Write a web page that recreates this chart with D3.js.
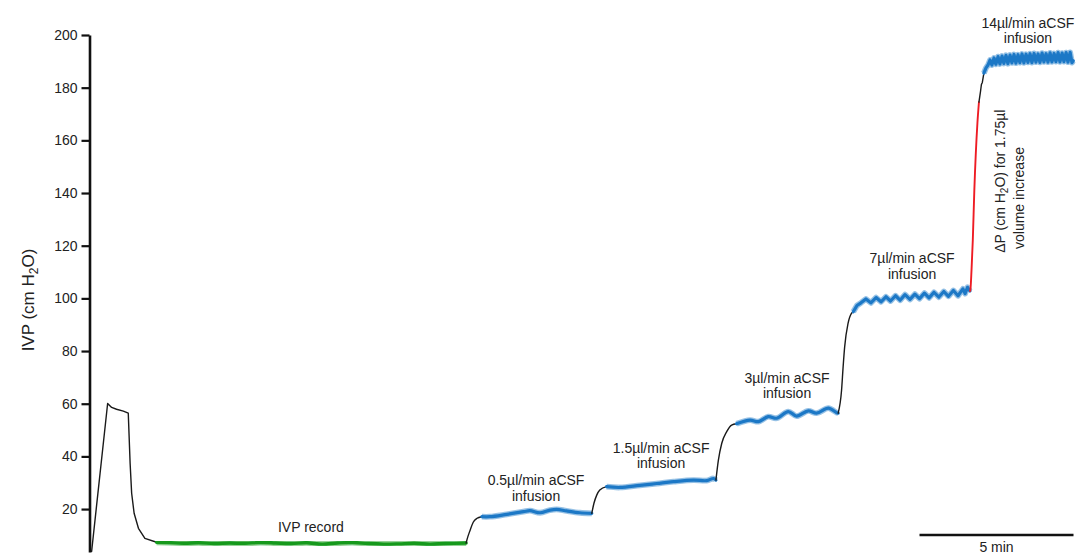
<!DOCTYPE html>
<html>
<head>
<meta charset="utf-8">
<script src="https://cdn.jsdelivr.net/npm/d3@7"></script>
<style>
  html, body { margin: 0; padding: 0; background: #fff; }
  svg { display: block; font-family: "Liberation Sans", Arial, sans-serif; }
</style>
</head>
<body>
<svg id="chart" width="1078" height="555"></svg>
<script>
// Intraventricular pressure recording: time in minutes, pressure in cm H2O.

// Priming spike and settling before the baseline record
const primingT = [0.02, 0.54, 0.67, 0.83, 1.05, 1.21, 1.27, 1.32, 1.40, 1.54, 1.75, 2.13];
const primingV = [3.9, 60.1, 58.6, 57.9, 57.2, 56.4, 37.4, 26.0, 18.4, 12.7, 8.9, 7.4];

// Baseline IVP record
const recordT = [2.13, 2.5, 3.0, 3.5, 4.0, 4.5, 5.0, 5.5, 6.0, 6.5, 7.0, 7.5, 8.0, 8.5, 9.0, 9.5, 10.0, 10.5, 11.0, 11.5, 12.18];
const recordV = [7.4, 7.3, 7.0, 7.2, 6.9, 7.1, 7.0, 7.3, 7.1, 6.9, 7.2, 6.7, 7.1, 7.3, 6.9, 6.7, 6.8, 7.0, 6.7, 6.9, 7.1];

// 0.5 µl/min infusion
const rise05T = [12.18, 12.21, 12.31, 12.41, 12.52, 12.69];
const rise05V = [7.1, 8.5, 12.0, 15.0, 16.4, 17.1];
const inf05T = [12.69, 12.95, 13.50, 14.04, 14.25, 14.58, 14.90, 15.12, 15.44, 15.87, 16.26];
const inf05V = [17.1, 17.1, 18.0, 19.0, 19.4, 18.6, 19.6, 19.9, 19.3, 18.6, 18.4];

// 1.5 µl/min infusion
const rise15T = [16.26, 16.33, 16.42, 16.52, 16.74];
const rise15V = [18.4, 22.2, 25.3, 27.2, 28.5];
const inf15T = [16.74, 17.17, 17.82, 18.37, 18.91, 19.56, 19.99, 20.21, 20.29];
const inf15V = [28.5, 28.2, 29.0, 29.7, 30.4, 31.0, 30.8, 31.6, 31.0];

// 3 µl/min infusion
const rise3T = [20.29, 20.37, 20.48, 20.64, 20.80, 20.96];
const rise3V = [31.0, 38.6, 45.0, 49.4, 51.9, 52.4];
const inf3T = [20.96, 21.40, 21.67, 21.99, 22.26, 22.64, 22.91, 23.29, 23.56, 23.94, 24.21, 24.26];
const inf3V = [52.4, 53.8, 53.2, 55.1, 54.5, 57.0, 55.3, 57.3, 56.4, 58.3, 56.6, 56.4];

// 7 µl/min infusion
const rise7T = [24.26, 24.37, 24.42, 24.47, 24.58, 24.69, 24.75];
const rise7V = [56.4, 65.2, 74.0, 81.6, 90.5, 94.3, 94.9];
const inf7T = [24.75, 24.87, 25.00, 25.16, 25.32, 25.49, 25.65, 25.81, 25.96, 26.12, 26.27, 26.43, 26.59,
               26.75, 26.90, 27.06, 27.21, 27.37, 27.53, 27.69, 27.84, 28.00, 28.15, 28.31, 28.38, 28.46, 28.54];
const inf7V = [94.9, 97.3, 98.3, 99.8, 98.3, 100.3, 98.7, 100.6, 99.0, 101.0, 99.3, 101.4, 99.6,
               101.6, 99.9, 102.0, 100.2, 102.3, 100.5, 102.6, 100.8, 103.0, 101.0, 103.6, 101.8, 104.2, 102.8];

// Pressure change for the 1.75 µl volume step
const bolusT = [28.54, 28.55, 28.59, 28.63, 28.68, 28.78, 28.83];
const bolusV = [102.8, 103.0, 111.0, 122.0, 141.0, 166.5, 174.5];

// 14 µl/min infusion
const rise14T = [28.83, 28.88, 28.91, 28.94, 28.99];
const rise14V = [174.5, 178.5, 181.2, 182.0, 185.5];
const inf14T = [28.99, 29.06, 29.12, 29.19, 29.25, 29.32, 29.38, 29.45, 29.51, 29.58, 29.64, 29.71, 29.77,
                29.84, 29.90, 29.97, 30.03, 30.10, 30.16, 30.23, 30.29, 30.36, 30.42, 30.49, 30.55, 30.62,
                30.68, 30.75, 30.81, 30.88, 30.94, 31.01, 31.07, 31.14, 31.20, 31.27, 31.33, 31.40, 31.46,
                31.53, 31.59, 31.66, 31.72, 31.79, 31.85, 31.89];
const inf14V = [185.5, 187.5, 188.5, 190.5, 188.6, 191.3, 188.9, 191.8, 189.0, 192.0, 189.2, 192.3, 189.1,
                192.4, 189.4, 192.6, 189.3, 192.5, 189.5, 192.8, 189.4, 192.7, 189.6, 192.9, 189.5, 193.0,
                189.7, 192.8, 189.6, 193.1, 189.8, 192.9, 189.7, 193.2, 189.8, 193.0, 189.9, 193.3, 189.8,
                193.1, 189.9, 193.3, 189.7, 193.4, 189.5, 190.2];

// Axis ticks and annotation text
const yTicks = [20, 40, 60, 80, 100, 120, 140, 160, 180, 200];
const phaseLabels = [
  ["IVP record"],
  ["0.5µl/min aCSF", "infusion"],
  ["1.5µl/min aCSF", "infusion"],
  ["3µl/min aCSF", "infusion"],
  ["7µl/min aCSF", "infusion"],
  ["14µl/min aCSF", "infusion"]
];
const scaleBarMinutes = 5;
const scaleBarLabel = "5 min";

// ---------------------------------------------------------------
const svg = d3.select("#chart");
const x = d3.scaleLinear().domain([0, 31.9]).range([91, 1073.5]);
const y = d3.scaleLinear().domain([3.7, 200]).range([552, 35]);

const colors = { base: "#1a1a1a", record: "#13991b", infusion: "#1d78c6", bolus: "#ee1c24" };

const defs = svg.append("defs");
defs.append("filter").attr("id", "soft")
  .attr("x", "-5%").attr("y", "-50%").attr("width", "110%").attr("height", "200%")
  .append("feGaussianBlur").attr("stdDeviation", 0.5);

// Y axis
const axis = d3.axisLeft(y).tickValues(yTicks).tickSize(8).tickSizeOuter(0).tickPadding(4);
const gAxis = svg.append("g").attr("transform", "translate(89.5,0)").call(axis);
gAxis.select(".domain").attr("stroke", "#111").attr("stroke-width", 2.6);
gAxis.selectAll(".tick line").attr("stroke", "#111").attr("stroke-width", 2.2);
gAxis.selectAll(".tick text").attr("fill", "#222").attr("font-size", 14)
  .attr("font-family", "'Liberation Sans', Arial, sans-serif");

// Y axis title with subscript
const yTitle = svg.append("text")
  .attr("transform", "translate(34,300) rotate(-90)")
  .attr("text-anchor", "middle").attr("font-size", 17).attr("fill", "#222");
yTitle.append("tspan").text("IVP (cm H");
yTitle.append("tspan").attr("font-size", 12).attr("dy", 4).text("2");
yTitle.append("tspan").attr("dy", -4).text("O)");

// Trace segments
const line = d3.line().x(d => x(d[0])).y(d => y(d[1]));
const smooth = d3.line().x(d => x(d[0])).y(d => y(d[1])).curve(d3.curveMonotoneX);
const rounded = d3.line().x(d => x(d[0])).y(d => y(d[1])).curve(d3.curveCatmullRom.alpha(0.5));
const pairs = (t, v) => t.map((tt, i) => [tt, v[i]]);

const segments = [
  { t: primingT, v: primingV, kind: "base", gen: line },
  { t: recordT,  v: recordV,  kind: "record", gen: rounded },
  { t: rise05T,  v: rise05V,  kind: "base", gen: smooth },
  { t: inf05T,   v: inf05V,   kind: "infusion", gen: rounded },
  { t: rise15T,  v: rise15V,  kind: "base", gen: smooth },
  { t: inf15T,   v: inf15V,   kind: "infusion", gen: rounded },
  { t: rise3T,   v: rise3V,   kind: "base", gen: smooth },
  { t: inf3T,    v: inf3V,    kind: "infusion", gen: rounded },
  { t: rise7T,   v: rise7V,   kind: "base", gen: smooth },
  { t: inf7T,    v: inf7V,    kind: "infusion", gen: line },
  { t: bolusT,   v: bolusV,   kind: "bolus", gen: smooth },
  { t: rise14T,  v: rise14V,  kind: "base", gen: line },
  { t: inf14T,   v: inf14V,   kind: "infusion", gen: line }
];
const widths = { base: 1.4, record: 3.4, infusion: 3.2, bolus: 1.9 };
const noisy = s => s.kind === "record" || s.kind === "infusion";

const gTrace = svg.append("g");
// faint outer halo gives the noisy band its ragged edge
gTrace.selectAll("path.halo").data(segments.filter(noisy)).join("path")
  .attr("class", "halo")
  .attr("d", s => s.gen(pairs(s.t, s.v)))
  .attr("fill", "none")
  .attr("stroke", s => colors[s.kind])
  .attr("stroke-opacity", 0.45)
  .attr("stroke-width", s => widths[s.kind] + 2.6)
  .attr("stroke-linejoin", "round")
  .attr("filter", "url(#soft)");
gTrace.selectAll("path.core").data(segments).join("path")
  .attr("class", "core")
  .attr("d", s => s.gen(pairs(s.t, s.v)))
  .attr("fill", "none")
  .attr("stroke", s => colors[s.kind])
  .attr("stroke-width", s => widths[s.kind])
  .attr("stroke-linejoin", "round")
  .attr("stroke-linecap", "round")
  .attr("filter", s => noisy(s) ? "url(#soft)" : null);

// Phase annotations, anchored in data coordinates
const labelAnchors = [[7.14, 11.3], [14.45, 29.1], [18.51, 41.3], [22.6, 67.9], [26.66, 113.4], [30.42, 202.8]];
const gLabels = svg.append("g").attr("font-size", 14).attr("fill", "#222").attr("text-anchor", "middle");
phaseLabels.forEach((lines, i) => {
  const [t, v] = labelAnchors[i];
  const txt = gLabels.append("text").attr("x", x(t)).attr("y", y(v));
  lines.forEach((s, j) => txt.append("tspan").attr("x", x(t)).attr("dy", j === 0 ? 0 : 15.5).text(s));
});

// Vertical note beside the volume step
const note1 = svg.append("text")
  .attr("transform", `translate(${x(29.66)},${y(144.5)}) rotate(-90)`)
  .attr("text-anchor", "middle").attr("font-size", 14).attr("fill", "#222");
note1.append("tspan").text("ΔP (cm H");
note1.append("tspan").attr("font-size", 10).attr("dy", 3).text("2");
note1.append("tspan").attr("dy", -3).text("O) for 1.75µl");
svg.append("text")
  .attr("transform", `translate(${x(30.29)},${y(138.1)}) rotate(-90)`)
  .attr("text-anchor", "middle").attr("font-size", 14).attr("fill", "#222")
  .text("volume increase");

// Time scale bar
const tEnd = x.domain()[1];
svg.append("line")
  .attr("x1", x(tEnd - scaleBarMinutes)).attr("x2", x(tEnd))
  .attr("y1", 535).attr("y2", 535)
  .attr("stroke", "#111").attr("stroke-width", 2.6);
svg.append("text")
  .attr("x", x(tEnd - scaleBarMinutes / 2)).attr("y", 552)
  .attr("text-anchor", "middle").attr("font-size", 14).attr("fill", "#222")
  .text(scaleBarLabel);
</script>
</body>
</html>
